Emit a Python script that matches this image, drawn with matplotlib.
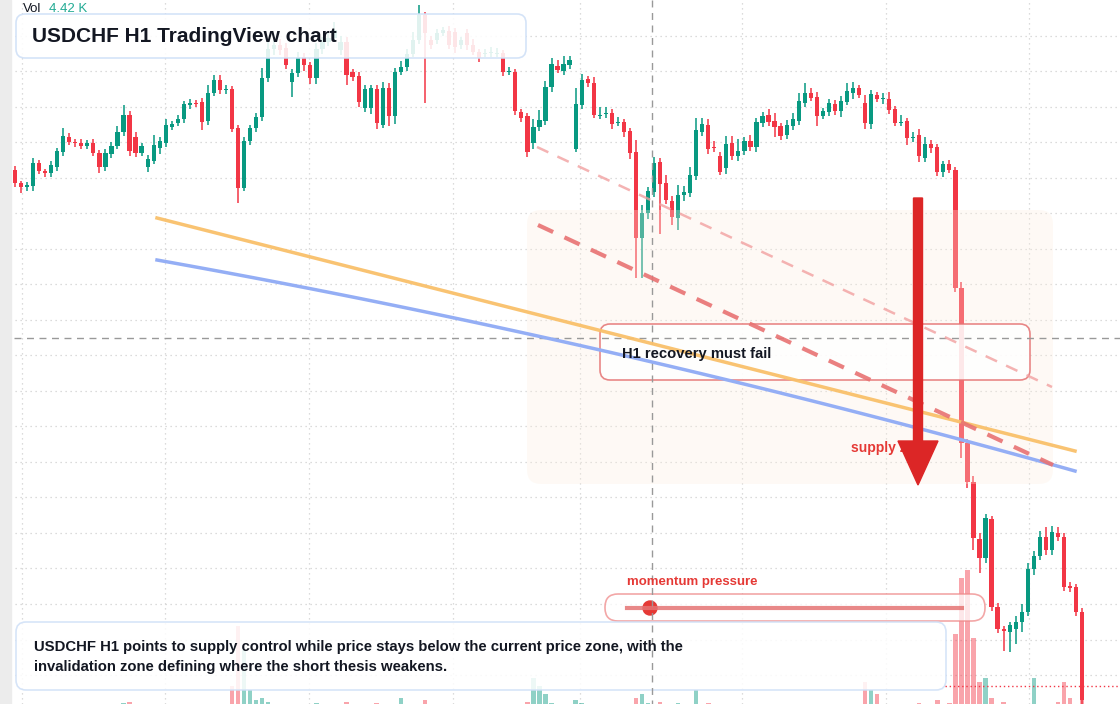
import numpy as np
import matplotlib
matplotlib.use("Agg")
import matplotlib.pyplot as plt
from matplotlib.patches import FancyBboxPatch, FancyArrow, Circle

plt.rcParams['font.family'] = ['Liberation Sans', 'DejaVu Sans']

# candle data, in pips below 0.9200 (bigger = lower price)
opens = [170,183,187,186,163,171,173,167,152,137,142,143,146,143,153,167,154,146,132,115,
         137,153,167,161,148,143,127,123,119,105,103,102,121,93,80,90,89,128,188,141,
         128,117,78,49,45,48,82,73,57,65,78,49,42,38,50,42,72,76,108,108,
         89,125,88,116,72,67,54,40,15,40,40,33,31,32,45,33,45,52,54,53,
         54,53,72,72,112,116,143,127,121,87,
         66,71,65,149,105,79,83,116,114,113,123,122,131,152,238,213,192,162,183,201,
         218,195,193,176,132,125,147,156,168,143,156,151,141,147,123,115,121,126,135,126,
         121,103,93,97,116,112,104,111,102,93,88,103,124,95,99,99,109,123,121,138,
         135,158,144,147,172,164,170,
         288,443,482,539,558,519,607,629,632,629,622,612,569,556,537,550,533,537,586,587,612]
closes = [183,187,185,163,171,173,165,151,136,142,143,146,143,153,167,153,146,132,115,151,
          153,146,159,145,141,125,124,119,104,103,104,122,93,80,90,89,129,188,141,128,
          117,78,49,45,50,65,73,57,65,78,49,42,38,30,42,75,77,102,89,88,
          123,88,116,72,67,54,40,15,33,45,33,30,45,47,40,45,52,58,53,52,
          53,72,71,111,118,152,127,120,87,64,
          70,64,60,104,80,83,115,115,113,124,122,132,153,238,213,191,163,184,200,217,
          195,192,175,130,124,149,148,172,144,156,151,141,147,122,116,122,127,136,125,119,
          101,93,98,116,111,103,111,101,91,88,95,123,94,99,98,110,123,122,138,137,
          156,144,148,172,164,170,288,
          443,482,538,558,518,607,629,631,625,622,612,569,556,537,550,532,537,587,588,612,700]
# wick extents (pips beyond body)
wick_up = [4,2,3,5,3,2,4,3,8,4,3,4,3,4,3,4,4,6,10,4,
           5,3,4,10,4,6,3,4,3,4,3,4,8,5,5,4,3,3,4,3,
           4,10,10,8,6,5,4,5,4,3,6,5,6,8,6,5,3,4,4,3,
           4,6,5,4,6,5,8,10,3,4,4,3,5,4,3,4,6,3,4,5,
           5,3,4,3,3,3,8,10,6,6,
           6,8,4,16,6,3,6,8,6,4,5,3,3,12,8,4,6,4,8,5,
           10,6,8,12,6,6,6,4,8,7,12,4,6,4,4,6,8,3,5,6,
           8,10,5,5,3,4,4,5,8,6,3,8,4,3,5,7,3,7,3,5,
           6,7,4,3,3,4,3,
           6,4,6,6,4,3,4,3,3,6,8,6,5,6,10,6,6,4,4,3,4]
wick_dn = [4,6,4,5,3,4,4,4,4,3,4,3,3,3,6,4,4,3,4,5,
           4,3,5,3,6,4,3,3,4,4,3,8,4,3,4,4,3,15,3,4,
           4,4,4,6,5,4,15,4,6,6,6,5,4,4,5,10,4,5,4,6,
           6,3,10,8,3,4,3,4,70,4,4,3,4,6,4,5,3,4,3,4,
           3,4,3,4,4,5,6,4,4,5,
           3,4,4,3,4,4,3,3,4,5,3,5,6,40,40,6,5,50,4,8,
           12,6,4,4,4,5,4,3,6,4,5,4,4,5,4,4,10,4,4,4,
           4,4,3,10,3,4,4,6,3,6,3,6,5,3,5,4,3,3,7,4,
           6,4,5,4,5,3,4,
           15,6,12,15,5,4,4,20,20,15,10,4,6,4,5,5,4,4,4,4,4]
# volume in thousands
volume = [1.0,1.2,0.8,1.5,1.0,0.9,1.1,1.3,1.6,1.0,0.8,0.9,1.0,1.2,1.4,1.0,0.9,1.1,1.8,2.0,
          1.4,1.0,1.2,1.1,0.9,1.3,0.8,1.0,1.2,0.9,0.8,1.4,1.5,1.2,1.0,0.9,6.0,21.0,15.0,5.0,
          2.5,3.0,2.0,1.5,1.2,1.4,1.3,1.6,1.2,1.5,1.8,1.0,1.1,1.3,1.0,2.0,1.5,1.4,1.2,1.6,
          1.8,1.3,1.5,1.4,3.0,1.2,1.1,1.6,2.5,1.3,1.0,1.1,1.2,1.4,1.0,1.1,1.3,1.2,1.0,0.9,
          1.0,1.4,1.1,1.6,1.4,2.0,8.0,6.0,4.0,1.8,
          1.5,1.3,1.2,2.5,1.8,1.2,1.4,1.0,1.1,1.2,1.0,1.1,1.6,3.0,4.0,1.8,1.4,2.0,1.5,1.6,
          1.8,1.2,1.5,5.0,1.6,1.8,1.0,1.4,1.5,1.2,1.0,1.3,1.1,1.5,1.2,1.0,1.1,1.3,1.2,1.0,
          1.3,1.5,1.0,1.4,1.2,1.1,1.0,1.2,1.3,1.0,1.1,7.0,5.0,4.0,1.2,1.4,1.5,1.3,1.6,1.2,
          1.8,1.4,1.5,2.5,1.6,1.8,19.0,
          33.0,35.0,18.0,7.0,8.0,3.0,1.5,2.0,1.2,1.0,1.4,1.6,8.0,1.5,1.2,1.3,2.0,7.0,3.0,1.0,4.42]

W, H = 1120, 704
X0 = 15
STEP = (1082 - X0) / (len(opens) - 1)

o = 0.9200 - np.array(opens) / 10000
c = 0.9200 - np.array(closes) / 10000
hi = np.maximum(o, c) + np.array(wick_up) / 10000
lo = np.minimum(o, c) - np.array(wick_dn) / 10000
vol = np.array(volume)
idx = np.arange(len(o))
GREEN, RED = '#089981', '#f23645'
cols = np.where(c >= o, GREEN, RED)

fig = plt.figure(figsize=(W / 100, H / 100), dpi=100)
ax = fig.add_axes([0, 0, 1, 1])
ax.set_xlim(-X0 / STEP, (W - X0) / STEP)
ax.set_ylim(0.9200 - H / 10000, 0.9200)
ax.axis('off')

# grid
for gx in [22, 165, 309, 453, 580, 742, 886, 1029]:
    ax.axvline((gx - X0) / STEP, color='#d0d0d0', lw=0.9, ls=(0, (1, 3)), zorder=0)
for gy in [36, 71, 107, 142, 178, 213, 249, 284, 320, 355, 391, 426, 462, 497, 533, 568, 604, 640, 675]:
    ax.axhline(0.92 - gy / 10000, color='#d0d0d0', lw=0.9, ls=(0, (1, 3)), zorder=0)

# volume (pane baseline sits a little below the frame, as on the source)
vax = fig.add_axes([0, 0, 1, 1], sharex=ax)
vax.set_ylim(1.5, H / 4 + 1.5)
vax.axis('off')
vax.patch.set_alpha(0)
vax.bar(idx, vol, width=0.75, color=cols, alpha=0.45, zorder=1)

# candles
ax.vlines(idx, lo, hi, colors=cols, lw=1.1, zorder=3)
body = np.maximum(np.abs(c - o), 0.00012)
ax.bar(idx, body, bottom=np.minimum(o, c), width=0.7, color=cols, zorder=3)

# overlay in pixel coordinates for annotations
ov = fig.add_axes([0, 0, 1, 1], zorder=5)
ov.set_xlim(0, W)
ov.set_ylim(H, 0)
ov.axis('off')
ov.patch.set_alpha(0)

ov.axvspan(0, 11, color='#ececec', zorder=0)
ov.plot([652, 652], [0, H], color='#999999', lw=1, ls=(0, (5, 4)))
ov.plot([14, W], [338, 338], color='#999999', lw=1, ls=(0, (5, 4)))
ov.plot([945, W], [686, 686], color=RED, lw=1, ls=(0, (1, 2)))

ov.add_patch(FancyBboxPatch((527, 210), 526, 274, boxstyle='round,pad=0,rounding_size=14',
                            fc='#fdeee0', ec='none', alpha=0.3))
ov.plot([157, 1075], [218, 451], color='#f9c06a', lw=2.5, alpha=0.95)
bx = np.linspace(157, 1075, 60)
bp = np.polyfit([157, 600, 1075], [260, 350, 471], 2)
ov.plot(bx, np.polyval(bp, bx), color='#94aef5', lw=2.5)
ov.plot([537, 1052], [147, 387], color='#f2a0a0', lw=1.8, ls=(0, (5, 4)), alpha=0.8)
ov.plot([538, 1053], [225, 465], color='#e87272', lw=3, ls=(0, (4, 3)), alpha=0.9)

# title
ov.add_patch(FancyBboxPatch((16, 14), 510, 44, boxstyle='round,pad=0,rounding_size=9',
                            fc='white', ec='#cfe0f7', lw=1.2, alpha=0.88))
ov.text(32, 36, 'USDCHF H1 TradingView chart', fontsize=15, weight='bold',
        color='#131722', va='center')
ov.text(23, 9, 'Vol', fontsize=9.5, color='#131722', va='center')
ov.text(49, 9, '4.42 K', fontsize=9.5, color='#22ab94', va='center')

# thesis box
ov.add_patch(FancyBboxPatch((600, 324), 430, 56, boxstyle='round,pad=0,rounding_size=10',
                            fc='white', ec='#e57373', lw=1.2, alpha=0.85))
ov.text(622, 354, 'H1 recovery must fail', fontsize=10.6, weight='bold',
        color='#131722', va='center')

ov.text(851, 448, 'supply zone', fontsize=10, weight='bold', color='#e53935', va='center')
ov.add_patch(FancyArrow(918, 198, 0, 287, width=9, head_width=40, head_length=44,
                        length_includes_head=True, color='#dc2626', zorder=6))

# momentum
ov.text(627, 582, 'momentum pressure', fontsize=9.5, weight='bold', color='#e53935', va='center')
ov.add_patch(FancyBboxPatch((605, 594), 380, 27, boxstyle='round,pad=0,rounding_size=13',
                            fc='white', ec='#ef8a8a', lw=1.2, alpha=0.75))
ov.plot([627, 962], [608, 608], color='#e57373', lw=3, alpha=0.85)
ov.add_patch(Circle((650, 608), 7, color='#e53935'))

# bottom note
ov.add_patch(FancyBboxPatch((16, 622), 930, 68, boxstyle='round,pad=0,rounding_size=10',
                            fc='white', ec='#cfe0f7', lw=1.2, alpha=0.85))
ov.text(34, 647, 'USDCHF H1 points to supply control while price stays below the current price zone, with the',
        fontsize=10.7, weight='bold', color='#131722', va='center')
ov.text(34, 667, 'invalidation zone defining where the short thesis weakens.',
        fontsize=10.7, weight='bold', color='#131722', va='center')

fig.savefig('out.png', dpi=100)
